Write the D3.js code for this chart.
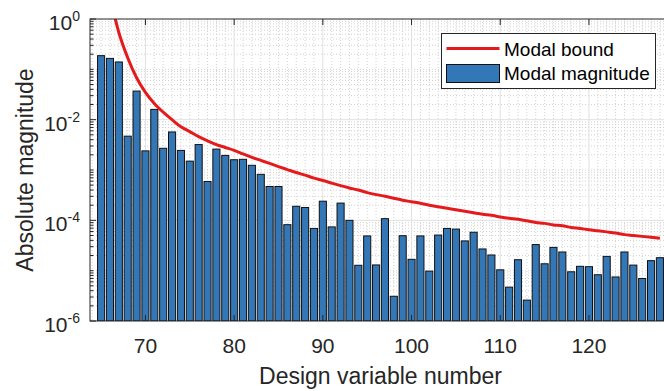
<!DOCTYPE html>
<html>
<head>
<meta charset="utf-8">
<script src="https://cdn.jsdelivr.net/npm/d3@7"></script>
<style>
  html, body { margin: 0; padding: 0; background: #fff; overflow: hidden; }
  text { font-family: "Liberation Sans", Arial, Helvetica, sans-serif; fill: #262626; }
</style>
</head>
<body>
<script>
// design variable numbers (one bar each)
const designVar = [65, 66, 67, 68, 69, 70, 71, 72, 73, 74, 75, 76, 77, 78, 79, 80,
  81, 82, 83, 84, 85, 86, 87, 88, 89, 90, 91, 92, 93, 94, 95, 96,
  97, 98, 99, 100, 101, 102, 103, 104, 105, 106, 107, 108, 109, 110, 111, 112,
  113, 114, 115, 116, 117, 118, 119, 120, 121, 122, 123, 124, 125, 126, 127, 128];

// modal magnitude (bars)
const modalMagnitude = [0.187, 0.165, 0.140, 4.7e-3, 0.037, 2.4e-3, 0.016, 2.7e-3,
  5.7e-3, 2.45e-3, 1.5e-3, 3.2e-3, 5.9e-4, 2.6e-3, 1.95e-3, 1.6e-3,
  1.63e-3, 1.24e-3, 8.2e-4, 4.7e-4, 4.7e-4, 8.2e-5, 1.9e-4, 1.8e-4,
  6.9e-5, 2.4e-4, 7.4e-5, 2.2e-4, 1.0e-4, 1.28e-5, 4.9e-5, 1.3e-5,
  1.08e-4, 3.1e-6, 4.95e-5, 1.68e-5, 4.9e-5, 9.8e-6, 5.1e-5, 6.9e-5,
  6.7e-5, 3.9e-5, 5.8e-5, 2.7e-5, 2.05e-5, 1.04e-5, 4.7e-6, 1.65e-5,
  2.6e-6, 3.3e-5, 1.37e-5, 2.9e-5, 2.35e-5, 9.5e-6, 1.22e-5, 1.2e-5,
  8.3e-6, 1.92e-5, 7.5e-6, 2.35e-5, 1.29e-5, 7.0e-6, 1.58e-5, 1.81e-5];

// modal bound (red line), null where it is far off the top
const modalBound = [null, 2.8, 0.54, 0.17, 0.068, 0.035, 0.021, 0.0141,
  0.0100, 0.0072, 0.0058, 0.0046, 0.0038, 0.0032, 0.0028, 0.00245,
  0.00209, 0.00178, 0.00155, 0.00135, 0.00117, 0.00102, 8.9e-4, 7.9e-4,
  6.9e-4, 6.2e-4, 5.5e-4, 4.9e-4, 4.4e-4, 4.0e-4, 3.55e-4, 3.24e-4,
  3.02e-4, 2.75e-4, 2.51e-4, 2.34e-4, 2.19e-4, 2.0e-4, 1.86e-4, 1.74e-4,
  1.62e-4, 1.51e-4, 1.41e-4, 1.32e-4, 1.26e-4, 1.17e-4, 1.10e-4, 1.05e-4,
  9.8e-5, 9.1e-5, 8.7e-5, 8.1e-5, 7.8e-5, 7.2e-5, 6.9e-5, 6.5e-5,
  6.2e-5, 5.9e-5, 5.6e-5, 5.2e-5, 5.0e-5, 4.8e-5, 4.6e-5, 4.4e-5];

const xTicks = [70, 80, 90, 100, 110, 120];
const yTickExp = [0, -2, -4, -6];
const legendLabels = ['Modal bound', 'Modal magnitude'];

const W = 664, H = 391;
const margin = { left: 90, top: 19, right: -7, bottom: 70 };
const barColor = '#3477b7', lineColor = '#e41a1c', axisColor = '#262626';

const x = d3.scaleLinear().domain([63.75, 129.25]).range([margin.left, W - margin.right]);
const y = d3.scaleLog().domain([1e-6, 1]).range([H - margin.bottom, margin.top]);
const x0 = x.range()[0], x1 = x.range()[1], yB = y.range()[0], yT = y.range()[1];

const svg = d3.select('body').append('svg')
    .attr('width', W).attr('height', H);

svg.append('defs').append('clipPath').attr('id', 'plotClip')
  .append('rect').attr('x', x0).attr('y', yT).attr('width', x1 - x0).attr('height', yB - yT);

// minor grid (dotted)
const grid = svg.append('g');
const minorY = [];
for (let e = -6; e < 0; e++) for (let k = 1; k <= 9; k++) {
  const v = k * Math.pow(10, e);
  if (k === 1 && e % 2 === 0) continue;
  minorY.push(v);
}
const minorX = [];
for (let v = 64; v <= 129; v++) if (v % 10 !== 0) minorX.push(v);

grid.selectAll('line.mx').data(minorX).join('line')
  .attr('x1', d => x(d)).attr('x2', d => x(d)).attr('y1', yT).attr('y2', yB)
  .attr('stroke', '#d2d2d2').attr('stroke-width', 1).attr('stroke-dasharray', '1,2');
grid.selectAll('line.my').data(minorY).join('line')
  .attr('y1', d => y(d)).attr('y2', d => y(d)).attr('x1', x0).attr('x2', x1)
  .attr('stroke', '#d2d2d2').attr('stroke-width', 1).attr('stroke-dasharray', '1,2');

// major grid
grid.selectAll('line.gx').data(xTicks).join('line')
  .attr('x1', d => x(d)).attr('x2', d => x(d)).attr('y1', yT).attr('y2', yB)
  .attr('stroke', '#e0e0e0').attr('stroke-width', 1);
grid.selectAll('line.gy').data([-2, -4]).join('line')
  .attr('y1', d => y(Math.pow(10, d))).attr('y2', d => y(Math.pow(10, d))).attr('x1', x0).attr('x2', x1)
  .attr('stroke', '#e0e0e0').attr('stroke-width', 1);

// bars
const bw = x(0.8) - x(0);
svg.append('g').attr('clip-path', 'url(#plotClip)')
  .selectAll('rect').data(designVar).join('rect')
  .attr('x', d => x(d) - bw / 2)
  .attr('width', bw)
  .attr('y', (d, i) => y(modalMagnitude[i]))
  .attr('height', (d, i) => yB - y(modalMagnitude[i]))
  .attr('fill', barColor).attr('stroke', '#111').attr('stroke-width', 1);

// bound line
const line = d3.line()
  .defined(d => d[1] != null)
  .x(d => x(d[0])).y(d => y(d[1]))
  .curve(d3.curveMonotoneX);
svg.append('path')
  .attr('clip-path', 'url(#plotClip)')
  .attr('d', line(designVar.map((v, i) => [v, modalBound[i]])))
  .attr('fill', 'none').attr('stroke', lineColor).attr('stroke-width', 3);

// axes box
const ax = svg.append('g').attr('stroke', axisColor).attr('stroke-width', 1).attr('fill', 'none');
ax.append('rect').attr('x', x0).attr('y', yT).attr('width', x1 - x0).attr('height', yB - yT);

// x ticks (bottom & top, inward)
xTicks.forEach(t => {
  ax.append('line').attr('x1', x(t)).attr('x2', x(t)).attr('y1', yB).attr('y2', yB - 6);
  ax.append('line').attr('x1', x(t)).attr('x2', x(t)).attr('y1', yT).attr('y2', yT + 6);
});
svg.append('g').selectAll('text').data(xTicks).join('text')
  .attr('x', d => x(d)).attr('y', yB + 32)
  .attr('text-anchor', 'middle').attr('font-size', 21)
  .text(d => d);

// y ticks (log: majors + minors)
y.ticks().forEach(v => {
  const e = Math.round(Math.log10(v));
  const isMajor = Math.abs(v - Math.pow(10, e)) < 1e-12 * Math.pow(10, e) && e % 2 === 0;
  const len = isMajor ? 6 : 3.5;
  ax.append('line').attr('x1', x0).attr('x2', x0 + len).attr('y1', y(v)).attr('y2', y(v));
});
const yLab = svg.append('g').selectAll('text').data(yTickExp).join('text')
  .attr('x', 80).attr('y', d => y(Math.pow(10, d)) + 11)
  .attr('text-anchor', 'end').attr('font-size', 21);
yLab.append('tspan').text('10');
yLab.append('tspan').attr('dy', -9).attr('font-size', 14).text(d => d === 0 ? '0' : '-' + (-d));

// axis labels
svg.append('text')
  .attr('x', (x0 + x1) / 2).attr('y', 384)
  .attr('text-anchor', 'middle').attr('font-size', 23)
  .text('Design variable number');
svg.append('text')
  .attr('transform', `translate(33,${(yT + yB) / 2}) rotate(-90)`)
  .attr('text-anchor', 'middle').attr('font-size', 23)
  .text('Absolute magnitude');

// legend
const lg = svg.append('g').attr('transform', 'translate(441.5,33.5)');
lg.append('rect').attr('width', 214).attr('height', 55)
  .attr('fill', '#fff').attr('stroke', axisColor).attr('stroke-width', 1);
lg.append('line').attr('x1', 5).attr('x2', 58).attr('y1', 15).attr('y2', 15)
  .attr('stroke', lineColor).attr('stroke-width', 3);
lg.append('rect').attr('x', 5).attr('y', 31).attr('width', 53).attr('height', 18)
  .attr('fill', barColor).attr('stroke', '#111').attr('stroke-width', 1);
lg.selectAll('text').data(legendLabels).join('text')
  .attr('x', 62.5).attr('y', (d, i) => 22 + i * 24.5)
  .attr('font-size', 19).style('fill', '#000')
  .text(d => d);
</script>
</body>
</html>
